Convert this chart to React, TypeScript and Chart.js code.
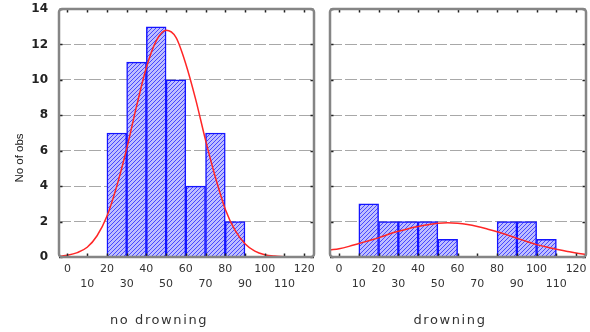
import { useEffect, useRef } from 'react';
import { Chart, registerables } from 'chart.js';
Chart.register(...registerables);

// ---- data ----
const binCentersNoDrowning = [25, 35, 45, 55, 65, 75, 85];
const countsNoDrowning = [7, 11, 13, 10, 4, 7, 2];
const binCentersDrowning = [15, 25, 35, 45, 55, 85, 95, 105];
const countsDrowning = [3, 2, 2, 2, 1, 2, 2, 1];

const curveXNoDrowning = [-4, 0, 5, 10, 15, 20, 25, 30, 35, 40, 45, 50, 55, 60, 65, 70, 75, 80, 85, 90, 95, 100, 105, 110];
const curveYNoDrowning = [0.04, 0.1, 0.25, 0.55, 1.2, 2.3, 4.0, 6.1, 8.5, 10.7, 12.2, 12.8, 12.4, 10.9, 8.9, 6.6, 4.5, 2.7, 1.5, 0.75, 0.33, 0.13, 0.05, 0.02];
const curveXDrowning = [-4.5, 0, 5, 10, 15, 20, 25, 30, 35, 40, 45, 50, 55, 60, 65, 70, 75, 80, 85, 90, 95, 100, 105, 110, 115, 120, 125];
const curveYDrowning = [0.4, 0.47, 0.6, 0.76, 0.92, 1.08, 1.28, 1.45, 1.6, 1.72, 1.82, 1.9, 1.93, 1.9, 1.83, 1.72, 1.58, 1.43, 1.25, 1.06, 0.88, 0.7, 0.56, 0.44, 0.33, 0.22, 0.15];

const xTickValues = [0, 10, 20, 30, 40, 50, 60, 70, 80, 90, 100, 110, 120];
const yTickValues = [0, 2, 4, 6, 8, 10, 12, 14];
const panelTitles = ['no drowning', 'drowning'];
const yAxisTitle = 'No of obs';

const X_MIN = -4.3;
const X_MAX = 125;
const Y_MAX = 14;

function makeHatch(): CanvasPattern | string {
  const c = document.createElement('canvas');
  c.width = 4;
  c.height = 4;
  const g = c.getContext('2d');
  if (!g) return '#9090ff';
  g.fillStyle = '#bebeff';
  g.fillRect(0, 0, 4, 4);
  g.strokeStyle = '#4848ff';
  g.lineWidth = 1;
  g.beginPath();
  g.moveTo(0, 4); g.lineTo(4, 0);
  g.moveTo(-1, 1); g.lineTo(1, -1);
  g.moveTo(3, 5); g.lineTo(5, 3);
  g.stroke();
  return g.createPattern(c, 'repeat') || '#9090ff';
}

const framePlugin = {
  id: 'frame',
  afterDatasetsDraw(chart: any) {
    const { ctx, chartArea: a, scales } = chart;
    ctx.save();
    ctx.strokeStyle = '#222';
    ctx.lineWidth = 1.5;
    ctx.beginPath();
    for (const v of xTickValues) {
      const px = Math.round(scales.x.getPixelForValue(v)) + 0.5;
      ctx.moveTo(px, a.top); ctx.lineTo(px, a.top + 3.5);
      ctx.moveTo(px, a.bottom); ctx.lineTo(px, a.bottom - 3.5);
    }
    for (const v of yTickValues) {
      const py = Math.round(scales.y.getPixelForValue(v)) + 0.5;
      ctx.moveTo(a.left, py); ctx.lineTo(a.left + 3.5, py);
      ctx.moveTo(a.right, py); ctx.lineTo(a.right - 3.5, py);
    }
    ctx.stroke();
    ctx.strokeStyle = '#858585';
    ctx.lineWidth = 2.5;
    ctx.beginPath();
    if (ctx.roundRect) ctx.roundRect(a.left, a.top, a.right - a.left, a.bottom - a.top, 3);
    else ctx.rect(a.left, a.top, a.right - a.left, a.bottom - a.top);
    ctx.stroke();
    ctx.restore();
  },
};

function textPlugin(title: string, titleX: number, showYTitle: boolean) {
  return {
    id: 'panelText',
    afterDraw(chart: any) {
      const { ctx } = chart;
      ctx.save();
      ctx.fillStyle = '#333';
      ctx.textAlign = 'center';
      ctx.textBaseline = 'middle';
      ctx.font = '13px "DejaVu Sans"';
      (ctx as any).letterSpacing = '1.6px';
      ctx.fillText(title, titleX, 321);
      (ctx as any).letterSpacing = '0px';
      if (showYTitle) {
        ctx.translate(20, 158);
        ctx.rotate(-Math.PI / 2);
        ctx.font = '11.5px "Liberation Sans"';
        ctx.fillStyle = '#222';
        ctx.fillText(yAxisTitle, 0, 0);
      }
      ctx.restore();
    },
  };
}

function buildConfig(
  centers: number[], counts: number[], cx: number[], cy: number[],
  left: boolean, title: string, titleX: number, xMin: number
): any {
  return {
    type: 'bar',
    data: {
      datasets: [
        {
          type: 'line',
          data: cx.map((x, i) => ({ x, y: cy[i] })),
          borderColor: '#ff2626',
          borderWidth: 1.5,
          pointRadius: 0,
          cubicInterpolationMode: 'monotone',
          order: 1,
        },
        {
          type: 'bar',
          data: centers.map((x, i) => ({ x, y: counts[i] })),
          backgroundColor: makeHatch(),
          borderColor: '#1414ff',
          borderWidth: 1.5,
          barPercentage: 1,
          categoryPercentage: 1,
          grouped: false,
          order: 2,
        },
      ],
    },
    options: {
      responsive: false,
      animation: false,
      devicePixelRatio: 1,
      layout: { padding: left ? { top: 9, right: 8, left: 0, bottom: 0 } : { top: 9, right: 4, left: 8, bottom: 0 } },
      plugins: { legend: { display: false }, tooltip: { enabled: false } },
      scales: {
        x: {
          type: 'linear',
          min: xMin,
          max: X_MAX,
          offset: false,
          grid: { display: false, offset: false, drawTicks: false },
          border: { display: false },
          afterBuildTicks: (scale: any) => { scale.ticks = xTickValues.map((v) => ({ value: v })); },
          afterFit: (scale: any) => {
            scale.height = 75;
            scale.paddingLeft = 0;
            scale.paddingRight = 0;
          },
          ticks: {
            autoSkip: false,
            maxRotation: 0,
            minRotation: 0,
            padding: 5,
            color: '#333',
            font: { family: '"DejaVu Sans"', size: 11, lineHeight: 15 / 11 },
            callback: (value: number) => {
              const i = Math.round(value / 10);
              return i % 2 === 0 ? [String(value), ''] : ['', String(value)];
            },
          },
        },
        y: {
          type: 'linear',
          min: 0,
          max: Y_MAX,
          grid: {
            drawTicks: false,
            lineWidth: 1,
            color: (c: any) => (c.tick && (c.tick.value === 0 || c.tick.value === Y_MAX) ? 'rgba(0,0,0,0)' : '#a8a8a8'),
          },
          border: { display: false, dash: [12, 3] },
          afterBuildTicks: (scale: any) => { scale.ticks = yTickValues.map((v) => ({ value: v })); },
          afterFit: (scale: any) => {
            scale.width = left ? 59 : 0;
            scale.paddingTop = 0;
            scale.paddingBottom = 0;
          },
          ticks: {
            display: left,
            padding: 11,
            color: '#222',
            font: { family: '"DejaVu Sans"', size: 12, weight: 'bold' },
          },
        },
      },
    },
    plugins: [framePlugin, textPlugin(title, titleX, left)],
  };
}

export default function App() {
  const leftRef = useRef<HTMLCanvasElement>(null);
  const rightRef = useRef<HTMLCanvasElement>(null);

  useEffect(() => {
    const charts: Chart[] = [];
    if (leftRef.current) {
      charts.push(new Chart(leftRef.current, buildConfig(
        binCentersNoDrowning, countsNoDrowning, curveXNoDrowning, curveYNoDrowning,
        true, panelTitles[0], 159, X_MIN)));
    }
    if (rightRef.current) {
      charts.push(new Chart(rightRef.current, buildConfig(
        binCentersDrowning, countsDrowning, curveXDrowning, curveYDrowning,
        false, panelTitles[1], 128, -4.6)));
    }
    return () => charts.forEach((c) => c.destroy());
  }, []);

  return (
    <div style={{ position: 'fixed', left: 0, top: 0, width: 590, height: 332, background: '#fff' }}>
      <canvas ref={leftRef} width={322} height={332} style={{ position: 'absolute', left: 0, top: 0, width: 322, height: 332 }} />
      <canvas ref={rightRef} width={268} height={332} style={{ position: 'absolute', left: 322, top: 0, width: 268, height: 332 }} />
    </div>
  );
}
